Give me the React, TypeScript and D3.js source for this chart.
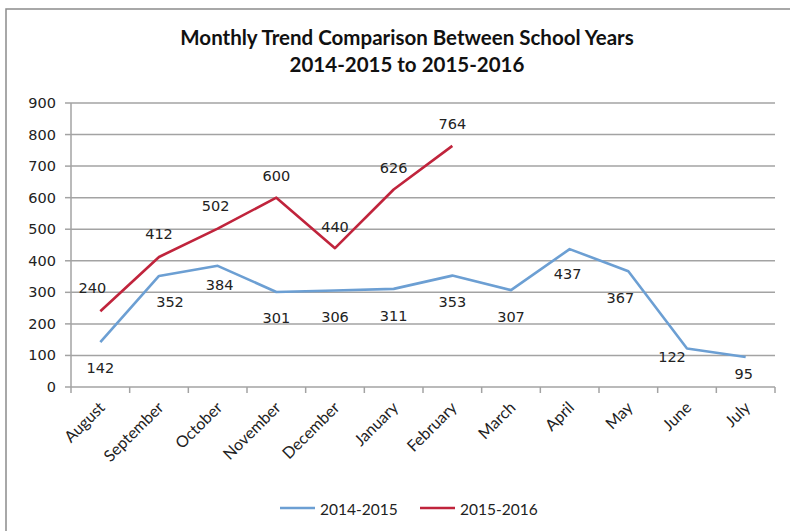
import * as d3 from "d3";

const months = [
  "August", "September", "October", "November", "December", "January",
  "February", "March", "April", "May", "June", "July",
];
const year1415 = [142, 352, 384, 301, 306, 311, 353, 307, 437, 367, 122, 95];
const year1516 = [240, 412, 502, 600, 440, 626, 764];
const yTicks = [0, 100, 200, 300, 400, 500, 600, 700, 800, 900];

// hand-placed data labels, like the excel original
const lab1415 = [[0, 26], [11, 26], [2, 19], [0, 26], [0, 27], [0, 27], [0, 26], [0, 27], [-2, 25], [-8, 27], [-15, 8], [-2, 17]];
const lab1516 = [[-8, -23], [0, -23], [-2, -23], [0, -22], [0, -21], [0, -21], [0, -22]];

const W = 790, H = 531;
const left = 71, right = 775, top = 103, bottom = 387;
const BLUE = "#6c9fd3";
const RED = "#c0243c";
const GRID = "#a3a3a3";
const NUM_FONT = "DejaVu Sans, Verdana, sans-serif";
const TXT_FONT = "Lato, sans-serif";

export default function App() {
  const x = d3.scaleBand().domain(months).range([left, right]);
  const y = d3.scaleLinear().domain([0, 900]).range([bottom, top]);
  const cx = (m: string) => (x(m) as number) + x.bandwidth() / 2;

  const line = d3.line<[string, number]>().x((d) => cx(d[0])).y((d) => y(d[1]));
  const pts1415 = year1415.map((v, i) => [months[i], v] as [string, number]);
  const pts1516 = year1516.map((v, i) => [months[i], v] as [string, number]);

  const edges = months.map((m) => x(m) as number).concat([right]);

  return (
    <svg width={W} height={H} style={{ position: "absolute", left: 0, top: 0, background: "#fff" }}>
      <rect x={6} y={9} width={W} height={H} fill="none" stroke="#8c8c8c" strokeWidth={1.5} />

      <text x={407} y={37} textAnchor="middle" dominantBaseline="central" fontFamily={TXT_FONT} fontWeight="bold" fontSize={20.5} fill="#111">
        Monthly Trend Comparison Between School Years
      </text>
      <text x={407} y={64} textAnchor="middle" dominantBaseline="central" fontFamily={TXT_FONT} fontWeight="bold" fontSize={20.5} fill="#111">
        2014-2015 to 2015-2016
      </text>

      {yTicks.map((t) => (
        <g key={t}>
          <line x1={left} x2={right} y1={y(t)} y2={y(t)} stroke={GRID} strokeWidth={1.5} />
          <line x1={left - 6} x2={left} y1={y(t)} y2={y(t)} stroke={GRID} strokeWidth={1.5} />
          <text x={56} y={y(t)} textAnchor="end" dominantBaseline="central" fontFamily={NUM_FONT} fontSize={14.5} fill="#222">
            {t}
          </text>
        </g>
      ))}
      <line x1={left} x2={left} y1={top} y2={bottom} stroke={GRID} strokeWidth={1.5} />
      {edges.map((e, i) => (
        <line key={i} x1={e} x2={e} y1={bottom} y2={bottom + 6} stroke={GRID} strokeWidth={1.5} />
      ))}

      {months.map((m) => (
        <text key={m} transform={`translate(${cx(m) + 1},${bottom + 17}) rotate(-45)`} textAnchor="end" dominantBaseline="central" fontFamily={TXT_FONT} fontSize={16} fill="#222">
          {m}
        </text>
      ))}

      <path d={line(pts1415) as string} fill="none" stroke={BLUE} strokeWidth={2.6} strokeLinejoin="round" />
      <path d={line(pts1516) as string} fill="none" stroke={RED} strokeWidth={2.6} strokeLinejoin="round" />

      {pts1415.map((d, i) => (
        <text key={"a" + i} x={cx(d[0]) + lab1415[i][0]} y={y(d[1]) + lab1415[i][1]} textAnchor="middle" dominantBaseline="central" fontFamily={NUM_FONT} fontSize={14.5} fill="#222">
          {d[1]}
        </text>
      ))}
      {pts1516.map((d, i) => (
        <text key={"b" + i} x={cx(d[0]) + lab1516[i][0]} y={y(d[1]) + lab1516[i][1]} textAnchor="middle" dominantBaseline="central" fontFamily={NUM_FONT} fontSize={14.5} fill="#222">
          {d[1]}
        </text>
      ))}

      <line x1={280} x2={315} y1={508} y2={508} stroke={BLUE} strokeWidth={2.6} />
      <text x={320} y={509} dominantBaseline="central" fontFamily={TXT_FONT} fontSize={15.5} fill="#222">2014-2015</text>
      <line x1={420} x2={455} y1={508} y2={508} stroke={RED} strokeWidth={2.6} />
      <text x={460} y={509} dominantBaseline="central" fontFamily={TXT_FONT} fontSize={15.5} fill="#222">2015-2016</text>
    </svg>
  );
}
